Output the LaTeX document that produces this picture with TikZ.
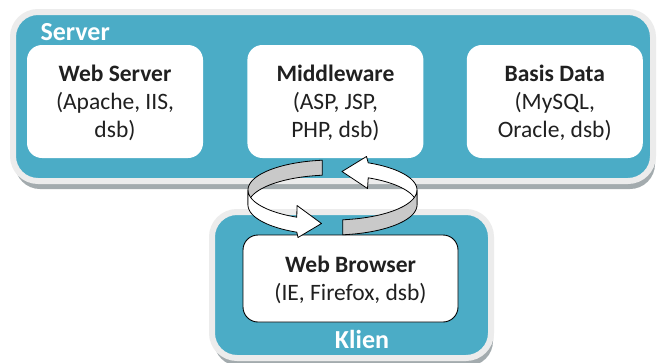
\documentclass[tikz,border=0pt]{standalone}
\usepackage{fontspec}
\setmainfont{Carlito}
\usepackage{xcolor}
\usepackage{tikz}
\usetikzlibrary{positioning,shadows}

\definecolor{panelteal}{HTML}{4BACC6}
\definecolor{rimgray}{HTML}{ECECEC}
\definecolor{shadegray}{HTML}{A3ABAE}
\definecolor{ribbongray}{HTML}{C9C9C9}
\definecolor{inkgray}{HTML}{202020}

\begin{document}
\begin{tikzpicture}[
  x=1pt,y=-1pt,
  txt/.style={font=\fontsize{23.5}{28}\selectfont,text=inkgray},
  box/.style={fill=white,rounded corners=15pt,align=center,inner sep=0pt,
    minimum width=176pt,minimum height=113pt,text depth=0pt,txt},
  cbox/.style={box,draw=black,line width=0.9pt,minimum width=215pt,minimum height=87pt},
  panel/.style={fill=panelteal,draw=rimgray,line width=6pt,rounded corners=25pt,
    drop shadow={shadow xshift=2pt,shadow yshift=-8pt,fill=shadegray,opacity=1}},
  tag/.style={text=white,font=\fontsize{26}{30}\selectfont\bfseries},
  rib/.style={draw=black,line width=0.8pt,line join=round},
]
\useasboundingbox (0,0) rectangle (658,362);
\fill[white] (0,0) rectangle (658,362);

% panels
\node[panel,minimum width=640pt,minimum height=169pt] (srv) at (333,96.5) {};
\node[panel,minimum width=279pt,minimum height=146pt] (kl) at (351.5,285) {};
\node[tag,anchor=base west] (srvtag) at (37,40) {Server};
\node[tag,anchor=base] (kltag) at (362,348) {Klien};

% server side
\node[box] (websrv) at (115,101.5) {\textbf{Web Server}\\(Apache, IIS,\\dsb)};
\node[box,right=44pt of websrv] (mid) {\textbf{Middleware}\\(ASP, JSP,\\PHP, dsb)};
\node[box,right=43pt of mid] (basis) {\textbf{Basis Data}\\(MySQL,\\Oracle, dsb)};

% client side
\node[cbox] (browser) at (350.5,278.5) {\textbf{Web Browser}\\(IE, Firefox, dsb)};

% request / response ribbon
\coordinate (cyc) at (332.5,197.5);
\begin{scope}[shift={(cyc)},samples=30]
  % back half
  \draw[rib,fill=ribbongray] plot[domain=97:180] ({84.5*cos(\x)},{-30*sin(\x)-7.5})
    -- plot[domain=180:97] ({84.5*cos(\x)},{-30*sin(\x)+7.5}) -- cycle;
  \draw[rib,fill=white] plot[domain=0:65] ({84.5*cos(\x)},{-30*sin(\x)-7.5})
    -- (34,-41) -- (9.5,-26) -- (35,-9)
    -- plot[domain=65:0] ({84.5*cos(\x)},{-30*sin(\x)+7.5}) -- cycle;
  % front half
  \draw[rib,fill=white] plot[domain=180:245] ({84.5*cos(\x)},{-30*sin(\x)-7.5})
    -- (-35.5,8) -- (-11,26) -- (-34.5,40)
    -- plot[domain=245:180] ({84.5*cos(\x)},{-30*sin(\x)+7.5}) -- cycle;
  \draw[rib,fill=ribbongray] plot[domain=277:360] ({84.5*cos(\x)},{-30*sin(\x)-7.5})
    -- plot[domain=360:277] ({84.5*cos(\x)},{-30*sin(\x)+7.5}) -- cycle;
\end{scope}
\end{tikzpicture}
\end{document}
